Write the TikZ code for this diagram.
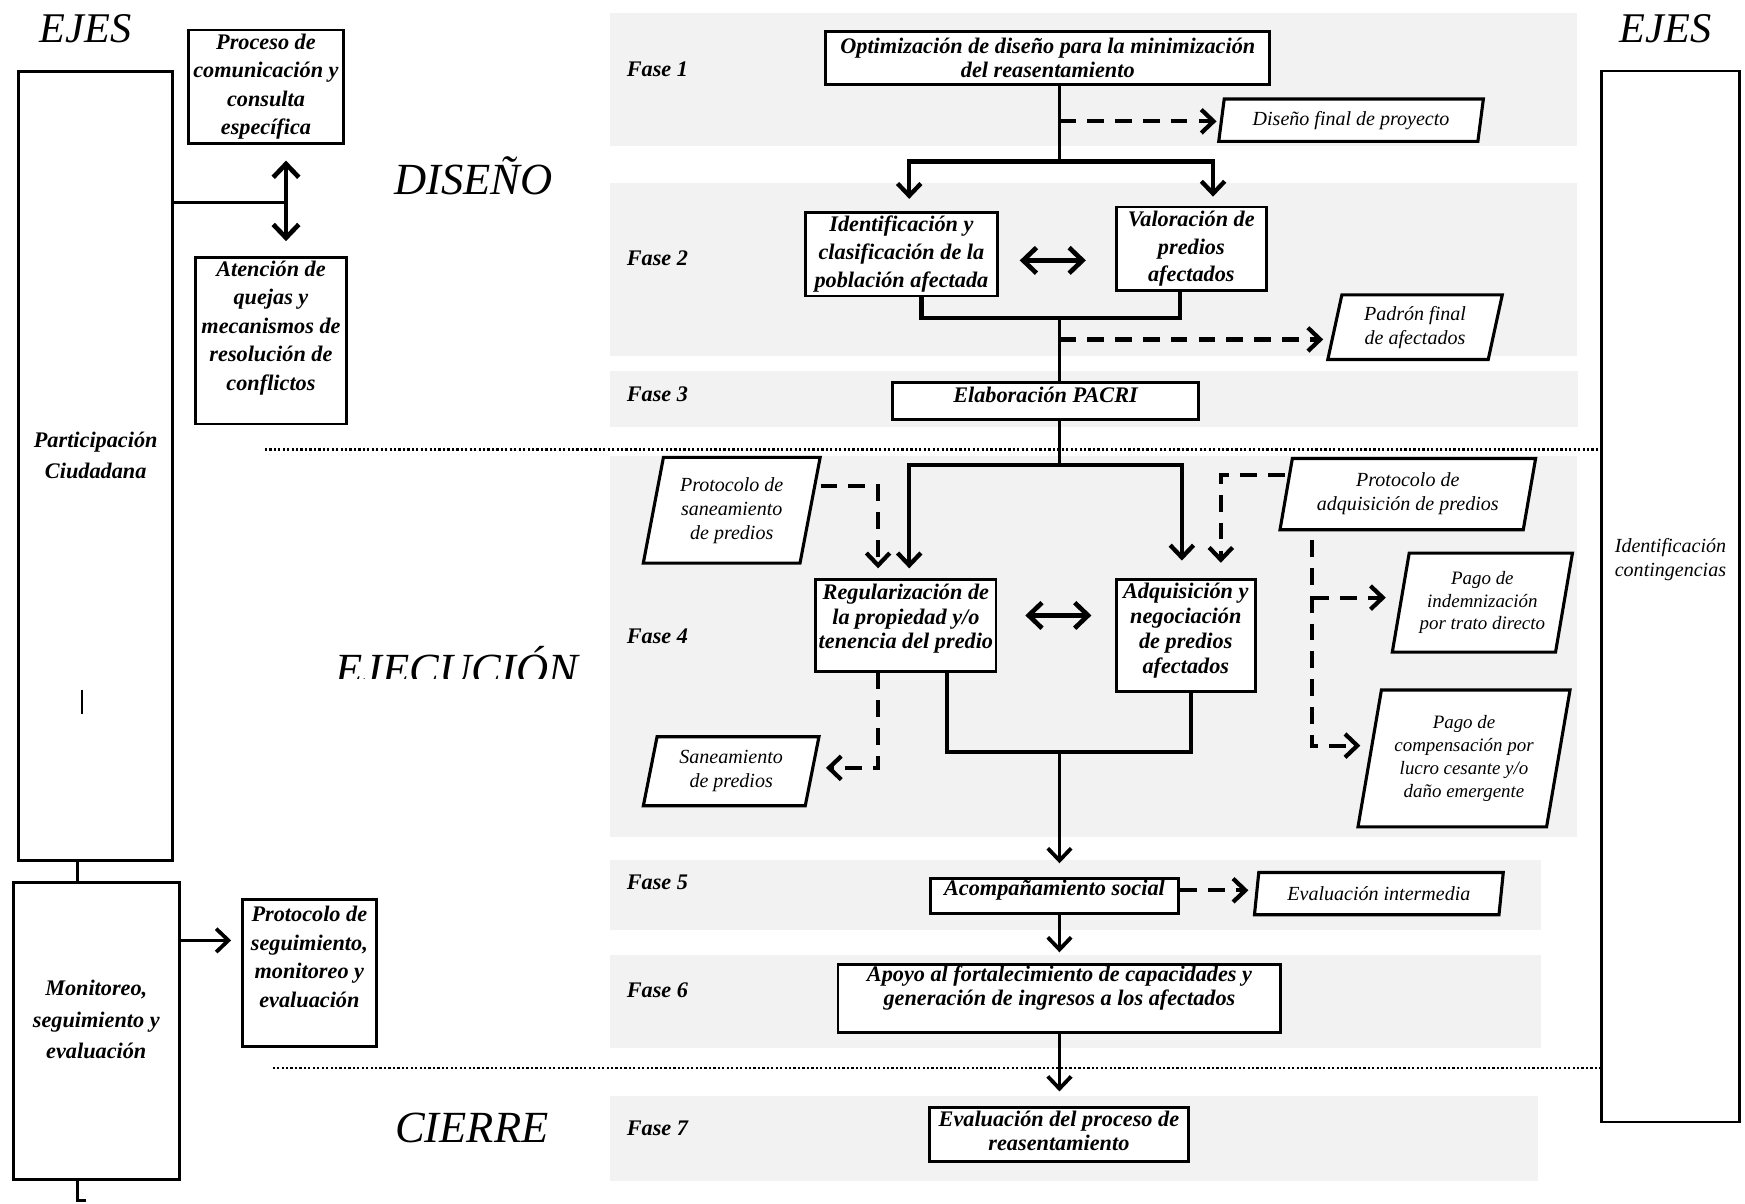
\documentclass[tikz,border=0pt]{standalone}
\usepackage{fontspec}
\setmainfont{Liberation Serif}
\usetikzlibrary{arrows.meta,shapes.geometric,calc}
\definecolor{bandc}{RGB}{242,242,242}
\newcommand\fntA{\fontsize{20}{21.5}\selectfont\bfseries\itshape}
\newcommand\fntB{\fontsize{20}{25}\selectfont\bfseries\itshape}
\newcommand\fntR{\fontsize{20}{22.3}\selectfont\bfseries\itshape}
\newcommand\fntC{\fontsize{20}{25.6}\selectfont\bfseries\itshape}
\newcommand\fntL{\fontsize{20}{28}\selectfont\bfseries\itshape}
\newcommand\fntP{\fontsize{18}{21.5}\selectfont\itshape}
\newcommand\fntS{\fontsize{17}{20.5}\selectfont\itshape}
\newcommand\fntF{\fontsize{20}{22}\selectfont\bfseries\itshape}
\newcommand\fntH{\fontsize{40}{40}\selectfont\itshape}
\newcommand\fntE{\fontsize{38}{38}\selectfont\itshape}
\begin{document}
\begin{tikzpicture}[x=1pt,y=-1pt,
  box/.style={draw, line width=2.6pt, fill=white, inner sep=0pt, align=center},
  para/.style={trapezium, trapezium left angle=77, trapezium right angle=103,
    trapezium stretches=true, draw, line width=2.8pt, fill=white, inner sep=0pt,
    align=center, font=\fntP},
  lt/.style={align=center, inner sep=0pt},
  ln/.style={line width=3.4pt},
  arr/.style={ln, line join=miter, -{Straight Barb[length=11pt,width=21pt]}},
  dsh/.style={line width=3.8pt, dash pattern=on 15pt off 10pt},
  dsharr/.style={dsh, -{Straight Barb[length=11pt,width=21pt]}},
  dbl/.style={line width=4.2pt, {Straight Barb[length=12pt,width=23pt]}-{Straight Barb[length=12pt,width=23pt]}},
  dotl/.style={line width=2pt, dash pattern=on 2pt off 2pt},
  fase/.style={anchor=base west, inner sep=0pt, font=\fntF},
  head/.style={anchor=base, inner sep=0pt, font=\fntH}
]
\useasboundingbox (0,0) rectangle (1568,1081);

% bands
\fill[bandc] (548,12) rectangle (1417,131);
\fill[bandc] (548,164) rectangle (1417,320);
\fill[bandc] (548,333) rectangle (1418,384);
\fill[bandc] (548,410) rectangle (1417,752);
\fill[bandc] (548,773) rectangle (1385,836);
\fill[bandc] (548,858) rectangle (1385,942);
\fill[bandc] (548,985) rectangle (1382,1061);

% separators
\draw[dotl] (238,404) -- (1438,404);
\draw[dotl] (245,960) -- (1438,960);

% headings
\node[head, font=\fntE] (ejesl) at (77,38) {EJES};
\node[head, font=\fntE] (ejesr) at (1496.5,38) {EJES};
\node[head] (hdis) at (425.5,175) {DISEÑO};
\begin{scope}
\clip (280,540) rectangle (550,610);
\node[head] (hej) at (410.5,615) {EJECUCIÓN};
\end{scope}
\node[head] (hcie) at (424,1027) {CIERRE};

% fases
\node[fase] (f1) at (563,69) {Fase 1};
\node[fase] (f2) at (563,239) {Fase 2};
\node[fase] (f3) at (563,361) {Fase 3};
\node[fase] (f4) at (563,578) {Fase 4};
\node[fase] (f5) at (563,799) {Fase 5};
\node[fase] (f6) at (563,896) {Fase 6};
\node[fase] (f7) at (563,1020) {Fase 7};

% left column
\node[box, minimum width=138, minimum height=709,
  label={[lt, font=\fntL, yshift=9.5pt]center:Participación\\Ciudadana}] (part) at (86,418.5) {};
\node[box, minimum width=140, minimum height=102, font=\fntC] (proc) at (239,78)
  {Proceso de\\comunicación y\\consulta\\específica};
\node[box, minimum width=135, minimum height=150,
  label={[lt, font=\fntC, yshift=11.5pt]center:Atención de\\quejas y\\mecanismos de\\resolución de\\conflictos}] (aten) at (243.5,306) {};
\node[box, minimum width=149, minimum height=267,
  label={[lt, font=\fntL, yshift=10.5pt]center:Monitoreo,\\seguimiento y\\evaluación}] (moni) at (86.5,926.5) {};
\node[box, minimum width=120, minimum height=132,
  label={[lt, font=\fntC, yshift=14pt]center:Protocolo de\\seguimiento,\\monitoreo y\\evaluación}] (pseg) at (278,874) {};

% right column
\node[box, line width=2.2pt, minimum width=124, minimum height=944,
  label={[lt, font=\fntP, yshift=33pt]center:Identificación\\contingencias}] (cont) at (1501,536) {};

% main boxes
\node[box, minimum width=399, minimum height=48, font=\fntA] (opt) at (941.5,52)
  {Optimización de diseño para la minimización\\del reasentamiento};
\node[box, minimum width=172, minimum height=75, font=\fntB] (ident) at (810,228.5)
  {Identificación y\\clasificación de la\\población afectada};
\node[box, minimum width=135, minimum height=75, font=\fntB] (valo) at (1070.5,223.5)
  {Valoración de\\predios\\afectados};
\node[box, minimum width=275, minimum height=33,
  label={[lt, font=\fntA, yshift=6pt]center:Elaboración PACRI}] (elab) at (939.5,360.5) {};
\node[box, minimum width=162, minimum height=82,
  label={[lt, font=\fntR, yshift=6pt]center:Regularización de\\la propiedad y/o\\tenencia del predio}] (reg) at (814,562) {};
\node[box, minimum width=125, minimum height=100,
  label={[lt, font=\fntR, yshift=4.5pt]center:Adquisición y\\negociación\\de predios\\afectados}] (adq) at (1065.5,571) {};
\node[box, minimum width=223, minimum height=32,
  label={[lt, font=\fntA, yshift=5pt]center:Acompañamiento social}] (acomp) at (947.5,805) {};
\node[box, minimum width=398, minimum height=61,
  label={[lt, font=\fntA, yshift=10pt]center:Apoyo al fortalecimiento de capacidades y\\generación de ingresos a los afectados}] (apoyo) at (952,897.5) {};
\node[box, minimum width=233, minimum height=49,
  label={[lt, font=\fntA, yshift=3pt]center:Evaluación del proceso de\\reasentamiento}] (evalp) at (951.5,1019.5) {};

% parallelograms
\node[para, minimum width=238, minimum height=38] (dfin) at (1214,108) {Diseño final de proyecto};
\node[para, minimum width=157, minimum height=58] (padron) at (1271.5,294) {Padrón final\\de afectados};
\node[para, minimum width=159, minimum height=95] (psan) at (657.5,458.5) {Protocolo de\\saneamiento\\de predios};
\node[para, minimum width=230, minimum height=64] (padq) at (1265,444) {Protocolo de\\adquisición de predios};
\node[para, minimum width=162, minimum height=89, font=\fntS] (pagoi) at (1332,541.5) {Pago de\\indemnización\\por trato directo};
\node[para, minimum width=191, minimum height=123, font=\fntS] (pagoc) at (1315.5,681.5) {Pago de\\compensación por\\lucro cesante y/o\\daño emergente};
\node[para, minimum width=158, minimum height=62] (sanea) at (657,693) {Saneamiento\\de predios};
\node[para, minimum width=224, minimum height=38] (evint) at (1239,803) {Evaluación intermedia};

% left connectors
\coordinate (pj) at (257,182);
\draw[ln] (part.east |- pj) -- (pj);
\draw[dbl, shorten <=14pt, shorten >=13pt] (pj |- proc.south) -- (pj |- aten.north);
\coordinate (pm) at (70,783);
\draw[line width=2.8pt] (pm |- part.south) -- (pm |- moni.north);
\coordinate (mb) at (70,1079);
\draw[line width=2.8pt] (pm |- moni.south) -- (mb) -- ++(7,0);
\draw[arr, shorten >=9pt] ([yshift=81.5pt]moni.east) -- ([yshift=81.5pt]moni.east -| pseg.west);
\draw[line width=1.6pt] (74,620) -- (74,642);

% fase 1-2
\coordinate (j1) at (952,145);
\draw[ln] (opt.south -| j1) -- (j1);
\coordinate (d1) at (952,109);
\draw[dsharr, shorten >=3pt] (d1) -- (d1 -| dfin.west);
\coordinate (b1l) at (817,145);
\coordinate (b1r) at (1090,145);
\draw[arr, line width=3.9pt, shorten >=11pt] (j1) -- (b1l) -- (b1l |- ident.north);
\draw[arr, line width=3.9pt, shorten >=8pt] (j1) -- (b1r) -- (b1r |- valo.north);
\draw[dbl, shorten <=19pt, shorten >=26pt] ([yshift=-5.5pt]ident.east) -- ([yshift=-5.5pt]ident.east -| valo.west);
\coordinate (b2l) at (828,286);
\coordinate (b2r) at (1060,286);
\coordinate (b2c) at (952,286);
\draw[ln, line width=3.9pt, line join=miter] (ident.south -| b2l) -- (b2l) -- (b2r) -- (valo.south -| b2r);
\draw[ln] (b2c) -- (b2c |- elab.north);
\coordinate (d2) at (952,305);
\draw[dsharr, shorten >=9pt] (d2) -- (d2 -| padron.west);

% fase 3-4
\coordinate (b4c) at (952,418);
\coordinate (b4l) at (817,418);
\coordinate (b4r) at (1062,418);
\draw[ln] (elab.south -| b4c) -- (b4c);
\draw[arr, line width=3.9pt, shorten >=9pt] (b4c) -- (b4l) -- (b4l |- reg.north);
\draw[arr, line width=3.9pt, shorten >=16pt] (b4c) -- (b4r) -- (b4r |- adq.north);
\coordinate (ps1) at (789,437);
\draw[dsharr, shorten <=8pt, shorten >=9pt] (psan.east |- ps1) -- (ps1) -- (ps1 |- reg.north);
\coordinate (pa1) at (1097,427);
\draw[dsharr, shorten >=14pt] (padq.west |- pa1) -- (pa1) -- (pa1 |- adq.north);
\coordinate (pa3) at (1179,537);
\coordinate (pa4) at (1179,670);
\draw[dsharr, shorten >=7pt] ([yshift=-8pt]padq.south -| pa4) -- (pa4) -- (pa4 -| pagoc.west);
\draw[dsharr, shorten >=12pt] (pa3) -- (pa3 -| pagoi.west);
\draw[dbl, shorten <=25pt, shorten >=21pt] ([yshift=9pt]reg.east) -- ([yshift=9pt]reg.east -| adq.west);
\coordinate (sn1) at (789,690);
\draw[dsharr, shorten >=11pt] (reg.south -| sn1) -- (sn1) -- (sn1 -| sanea.east);
\coordinate (b5l) at (851,676);
\coordinate (b5r) at (1070,676);
\coordinate (b5c) at (952,676);
\draw[ln, line join=miter] (reg.south -| b5l) -- (b5l) -- (b5r) -- (adq.south -| b5r);
\draw[arr, shorten >=12pt] (b5c) -- (b5c |- acomp.north);

% fase 5-7
\draw[dsharr, shorten >=6pt] ([yshift=5pt]acomp.east) -- ([yshift=5pt]acomp.east -| evint.west);
\draw[arr, shorten >=10pt] (apoyo.north |- acomp.south) -- (apoyo.north);
\draw[arr, shorten >=13pt] (apoyo.south) -- (apoyo.south |- evalp.north);
\end{tikzpicture}
\end{document}
